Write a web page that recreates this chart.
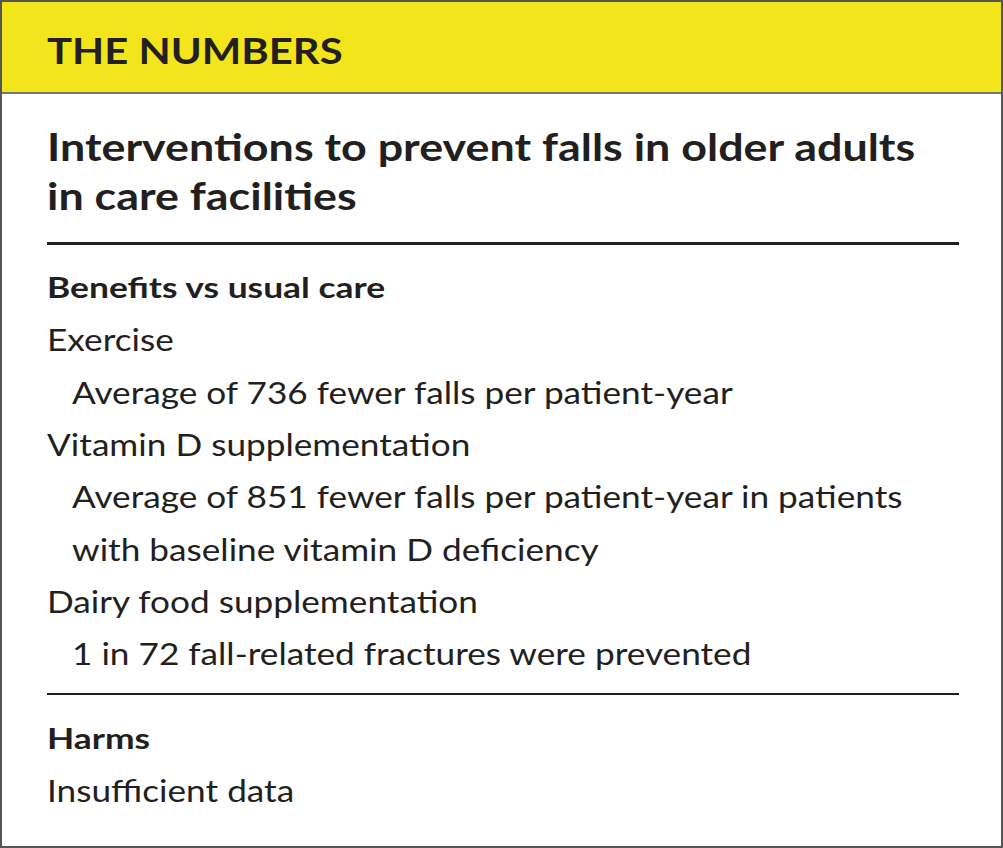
<!DOCTYPE html>
<html><head><meta charset="utf-8">
<script src="https://cdn.jsdelivr.net/npm/chart.js@4"></script>
<style>
html,body{margin:0;padding:0;background:#fff;}
#box{position:absolute;left:0;top:0;width:999px;height:844px;border:2px solid #555;font-family:Lato,"Open Sans",sans-serif;color:#231f20;overflow:hidden}
#head{position:absolute;left:0;top:0;width:100%;height:90px;background:#f2e51c;border-bottom:2px solid #777}
.t{position:absolute;left:45px;white-space:nowrap;line-height:1;transform-origin:0 0}
</style></head><body>
<div id="box"><div id="head"></div><div id="txt"></div></div>
<script>
const headerText = 'THE NUMBERS';
const titleLines = ['Interventions to prevent falls in older adults', 'in care facilities'];
const benefitLines = [
  ['Benefits vs usual care', 0, true],
  ['Exercise', 0, false],
  ['Average of 736 fewer falls per patient-year', 1, false],
  ['Vitamin D supplementation', 0, false],
  ['Average of 851 fewer falls per patient-year in patients', 1, false],
  ['with baseline vitamin D deficiency', 1, false],
  ['Dairy food supplementation', 0, false],
  ['1 in 72 fall-related fractures were prevented', 1, false]
];
const harmLines = [['Harms', 0, true], ['Insufficient data', 0, false]];

const txt = document.getElementById('txt');
function add(s, top, size, bold, indent, sx) {
  const d = document.createElement('div');
  d.className = 't';
  d.textContent = s;
  d.style.top = top + 'px';
  d.style.fontSize = size + 'px';
  d.style.fontWeight = bold ? '700' : '400';
  d.style.left = (45 + (indent ? 25 : 0)) + 'px';
  d.style.transform = 'scaleX(' + sx + ')';
  txt.appendChild(d);
}
function rule(top, h) {
  const d = document.createElement('div');
  d.style.cssText = 'position:absolute;left:45px;width:912px;background:#231f20;top:' + top + 'px;height:' + h + 'px';
  txt.appendChild(d);
}
add(headerText, 29, 37, true, 0, 1.13);
titleLines.forEach((s, i) => add(s, 125 + i * 49, 38, true, 0, 1.18));
rule(240, 3);
benefitLines.forEach((l, i) => add(l[0], 270 + i * 52.3, l[2] ? 29 : 31, l[2], l[1], l[2] ? 1.22 : 1.135));
rule(691, 2);
harmLines.forEach((l, i) => add(l[0], 721 + i * 52, l[2] ? 29 : 31, l[2], l[1], l[2] ? 1.22 : 1.135));
</script>
</body></html>
